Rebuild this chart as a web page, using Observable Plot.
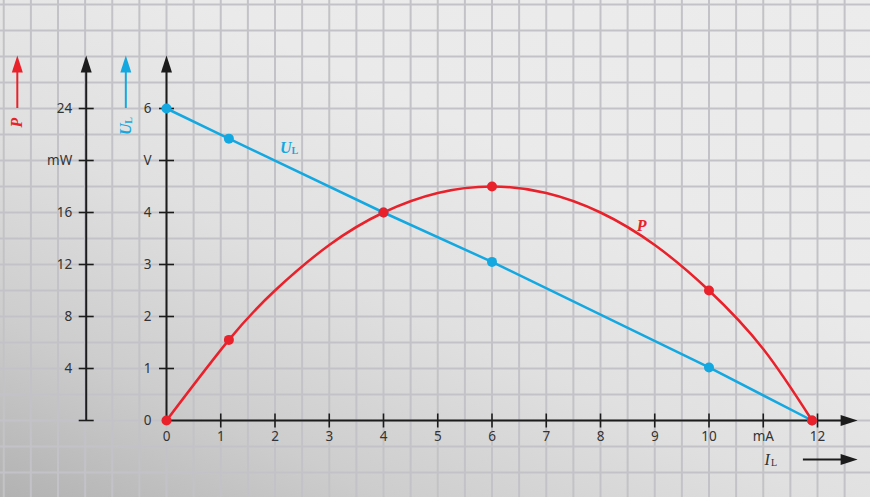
<!DOCTYPE html>
<html><head><meta charset="utf-8">
<script src="https://cdn.jsdelivr.net/npm/d3@7"></script>
<script src="https://cdn.jsdelivr.net/npm/@observablehq/plot@0.6"></script>
<style>
html,body{margin:0;padding:0;overflow:hidden;background:#e6e6e6}
svg{display:block}
</style>
</head><body><div id="chart"></div>
<script>
// ---- data ----
const dotI = [0, 1.15, 4, 6, 10, 11.9];          // I_L in mA
const dotU = [6, 5.42, 4, 3.05, 1.02, 0];        // U_L in V
const dotP = [0, 6.2, 16, 18, 10, 0];            // P in mW
const curveI = [0, 1.15, 2, 3, 4, 5, 6, 7, 8, 9, 10, 11, 11.9];
const curveP = [0, 6.2, 10, 13.5, 16, 17.5, 18, 17.5, 16, 13.5, 10, 5.5, 0];
const xTickValues = [0,1,2,3,4,5,6,7,8,9,10,11,12];
const xTickLabels = ["0","1","2","3","4","5","6","7","8","9","10","mA","12"];
const uTickValues = [0,1,2,3,4,5,6];
const uTickLabels = ["0","1","2","3","4","V","6"];
const pTickValues = [0,4,8,12,16,20,24];
const pTickLabels = ["","4","8","12","16","mW","24"];

const RED = "#e8212b", BLUE = "#14a8e1", INK = "#1c1c1c", TXT = "#333333";
const pToU = p => p / 4;  // P axis: 4 mW per V division

const dots = dotI.map((I, i) => ({I, U: dotU[i], P: dotP[i]}));
const curve = curveI.map((I, i) => ({I, P: curveP[i]}));
const xTicks = xTickValues.map((v, i) => ({v, label: xTickLabels[i]}));
const uTicks = uTickValues.map((v, i) => ({v, label: uTickLabels[i]}));
const pTicks = pTickValues.map((v, i) => ({v, label: pTickLabels[i]}));

const gridX = d3.range(-3.5, 13.51, 0.5);
const gridY = d3.range(-2, 8.51, 0.5);

const PAX = -1.48, UAR = -0.75, PAR = -2.75, TOP = 7.02, XEND = 12.74;

const arrowUp = {draw(c){c.moveTo(0,0);c.lineTo(5.5,17);c.lineTo(-5.5,17);c.closePath();}};
const arrowRight = {draw(c){c.moveTo(0,0);c.lineTo(-17,5.5);c.lineTo(-17,-5.5);c.closePath();}};
const tickH = {draw(c){c.moveTo(-7.5,0);c.lineTo(7.5,0);}};
const tickV = {draw(c){c.moveTo(0,-7);c.lineTo(0,7);}};

const serif = "'Liberation Serif','DejaVu Serif',serif";
const sans = "'Noto Sans','Open Sans',sans-serif";

const chart = Plot.plot({
  width: 870, height: 497,
  marginTop: 0, marginRight: 0, marginBottom: 0, marginLeft: 0,
  x: {type: "linear", domain: [0, 12], range: [166, 817], axis: null},
  y: {type: "linear", domain: [0, 6], range: [420, 108], axis: null},
  style: {background: "linear-gradient(25deg, #b2b2b2 0%, #cdcdcd 20%, #e0e0e0 42%, #eaeaea 65%, #ececec 100%)", overflow: "visible"},
  marks: [
    // grid
    Plot.ruleX(gridX, {x: d => d, stroke: "#c3c3c7", strokeWidth: 2}),
    Plot.ruleY(gridY, {y: d => d, stroke: "#c3c3c7", strokeWidth: 2}),
    // axes lines
    Plot.ruleX([0], {x: d => d, y1: 0, y2: 6.8, stroke: INK, strokeWidth: 2}),
    Plot.ruleX([PAX], {x: d => d, y1: 0, y2: 6.8, stroke: INK, strokeWidth: 2}),
    Plot.ruleY([0], {y: d => d, x1: 0, x2: 12.5, stroke: INK, strokeWidth: 2}),
    Plot.ruleY([-0.75], {y: d => d, x1: 11.74, x2: 12.5, stroke: INK, strokeWidth: 2}),
    Plot.ruleX([UAR], {x: d => d, y1: 6, y2: 6.8, stroke: BLUE, strokeWidth: 2}),
    Plot.ruleX([PAR], {x: d => d, y1: 6, y2: 6.8, stroke: RED, strokeWidth: 2}),
    // arrowheads
    Plot.dot([0, PAX], {x: d => d, y: () => TOP, symbol: arrowUp, fill: INK, stroke: "none"}),
    Plot.dot([UAR], {x: d => d, y: () => TOP, symbol: arrowUp, fill: BLUE, stroke: "none"}),
    Plot.dot([PAR], {x: d => d, y: () => TOP, symbol: arrowUp, fill: RED, stroke: "none"}),
    Plot.dot([0, -0.75], {x: () => XEND, y: d => d, symbol: arrowRight, fill: INK, stroke: "none"}),
    // ticks
    Plot.dot(xTicks.filter(d => d.v > 0), {x: "v", y: () => 0, symbol: tickV, stroke: INK, strokeWidth: 1.6}),
    Plot.dot(uTicks.filter(d => d.v > 0), {x: () => 0, y: "v", symbol: tickH, stroke: INK, strokeWidth: 1.6}),
    Plot.dot(pTicks, {x: () => PAX, y: d => pToU(d.v), symbol: tickH, stroke: INK, strokeWidth: 1.6}),
    // tick labels
    Plot.text(xTicks, {x: "v", y: () => 0, text: "label", dy: 16, fontSize: 13.5, fill: TXT, fontFamily: sans}),
    Plot.text(uTicks, {x: () => 0, y: "v", text: "label", dx: -15, textAnchor: "end", fontSize: 13.5, fill: TXT, fontFamily: sans}),
    Plot.text(pTicks, {x: () => PAX, y: d => pToU(d.v), text: "label", dx: -14, textAnchor: "end", fontSize: 13.5, fill: TXT, fontFamily: sans}),
    // data: U_L line
    Plot.line(dots, {x: "I", y: "U", stroke: BLUE, strokeWidth: 2.5}),
    // data: P curve
    Plot.line(curve, {x: "I", y: d => pToU(d.P), stroke: RED, strokeWidth: 2.5, curve: "natural"}),
    Plot.dot(dots, {x: "I", y: "U", r: 5, fill: BLUE}),
    Plot.dot(dots, {x: "I", y: d => pToU(d.P), r: 5, fill: RED}),
    // series labels
    Plot.text(["U"], {x: () => 2.2, y: () => 5.25, text: d => d, fill: BLUE, fontSize: 16, fontWeight: "bold", fontStyle: "italic", fontFamily: serif}),
    Plot.text(["L"], {x: () => 2.2, y: () => 5.25, text: d => d, dx: 9, dy: 3, fill: BLUE, fontSize: 10, fontWeight: "bold", fontFamily: serif}),
    Plot.text(["P"], {x: () => 8.76, y: () => 3.75, text: d => d, fill: RED, fontSize: 16, fontWeight: "bold", fontStyle: "italic", fontFamily: serif}),
    // axis titles
    Plot.text(["P"], {x: () => PAR, y: () => 5.73, text: d => d, rotate: -90, fill: RED, fontSize: 16, fontWeight: "bold", fontStyle: "italic", fontFamily: serif}),
    Plot.text(["U"], {x: () => UAR, y: () => 5.6, text: d => d, rotate: -90, fill: BLUE, fontSize: 16, fontWeight: "bold", fontStyle: "italic", fontFamily: serif}),
    Plot.text(["L"], {x: () => UAR, y: () => 5.6, text: d => d, rotate: -90, dx: 3, dy: -9, fill: BLUE, fontSize: 10, fontWeight: "bold", fontFamily: serif}),
    Plot.text(["I"], {x: () => 11.07, y: () => -0.75, text: d => d, fill: TXT, fontSize: 16, fontStyle: "italic", fontFamily: serif}),
    Plot.text(["L"], {x: () => 11.07, y: () => -0.75, text: d => d, dx: 7, dy: 3, fill: TXT, fontSize: 10, fontFamily: serif})
  ]
});
document.getElementById("chart").appendChild(chart);
</script>
</body></html>
